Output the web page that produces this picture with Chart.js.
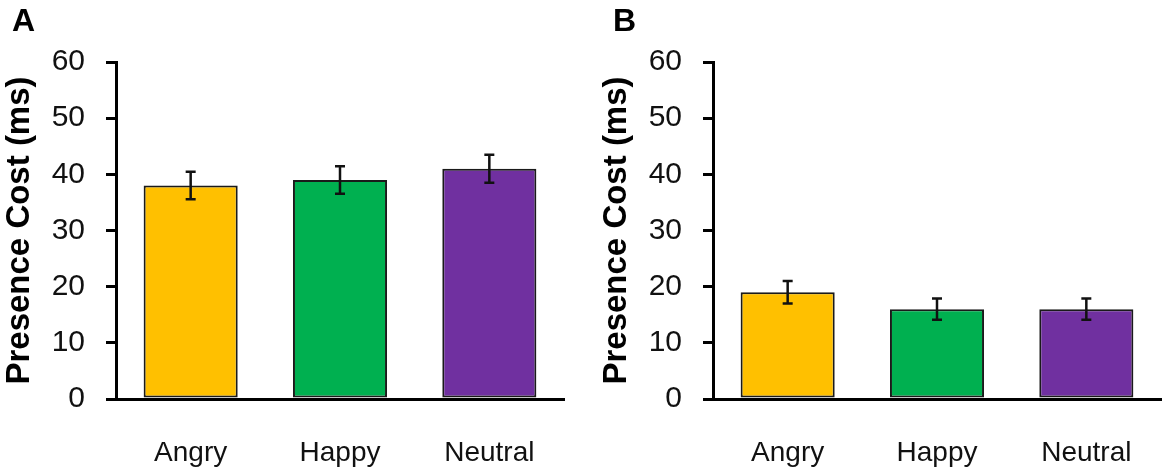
<!DOCTYPE html>
<html>
<head>
<meta charset="utf-8">
<script src="https://cdn.jsdelivr.net/npm/chart.js@4.4.1/dist/chart.umd.min.js"></script>
<style>
  body { margin: 0; background: #fff; }
  .panel { position: absolute; top: 0; height: 469px; }
  #panelA { left: 0; width: 566px; }
  #panelB { left: 597px; width: 566px; }
</style>
</head>
<body>
<div class="panel" id="panelA"><canvas id="chartA"></canvas></div>
<div class="panel" id="panelB"><canvas id="chartB"></canvas></div>
<script>
// values
const categories = ["Angry", "Happy", "Neutral"];
const colours = ["#FFC000", "#00B050", "#7030A0"];
const costA = [38, 39, 41];
const errA = [2.45, 2.45, 2.5];
const costB = [19, 16, 16];
const errB = [2.0, 1.9, 1.9];
const yMax = 60;
const yStep = 10;

const FONT = "'Liberation Sans', Arial, sans-serif";

// error bars + panel letter
const extras = {
  id: "extras",
  afterDatasetsDraw(chart, args, opts) {
    const ctx = chart.ctx;
    const y = chart.scales.y;
    const meta = chart.getDatasetMeta(0);
    ctx.save();
    ctx.strokeStyle = "#111";
    ctx.lineWidth = 2.5;
    meta.data.forEach((bar, i) => {
      const v = chart.data.datasets[0].data[i];
      const e = opts.errors[i];
      const top = y.getPixelForValue(v + e);
      const bot = y.getPixelForValue(v - e);
      ctx.beginPath();
      ctx.moveTo(bar.x, top); ctx.lineTo(bar.x, bot);
      ctx.moveTo(bar.x - 5, top); ctx.lineTo(bar.x + 5, top);
      ctx.moveTo(bar.x - 5, bot); ctx.lineTo(bar.x + 5, bot);
      ctx.stroke();
    });
    ctx.fillStyle = "#000";
    ctx.font = "bold 32px " + FONT;
    ctx.textBaseline = "top";
    ctx.fillText(opts.letter, opts.letterX, 6);
    ctx.restore();
  }
};

function makeChart(id, values, errors, letter, letterX) {
  return new Chart(document.getElementById(id), {
    type: "bar",
    data: {
      labels: categories,
      datasets: [{
        data: values,
        backgroundColor: colours,
        borderColor: "#1a1a1a",
        borderWidth: 2,
        borderSkipped: false,
        categoryPercentage: 1,
        barPercentage: 0.63
      }]
    },
    options: {
      responsive: true,
      maintainAspectRatio: false,
      animation: false,
      layout: { padding: { top: 62, right: 2, left: 0, bottom: 0 } },
      plugins: {
        legend: { display: false },
        tooltip: { enabled: false },
        extras: { errors: errors, letter: letter, letterX: letterX }
      },
      scales: {
        x: {
          grid: { display: false },
          border: { display: true, color: "#000", width: 3 },
          ticks: { color: "#111", font: { family: FONT, size: 28 }, padding: 29 },
          afterFit(s) { s.height = 70; }
        },
        y: {
          min: 0,
          max: yMax,
          ticks: { stepSize: yStep, color: "#111", font: { family: FONT, size: 30 }, padding: 21 },
          grid: { display: true, drawOnChartArea: false, drawTicks: true, tickLength: 10, color: "#000", lineWidth: 3 },
          border: { display: true, color: "#000", width: 3 },
          title: {
            display: true,
            text: "Presence Cost (ms)",
            color: "#000",
            font: { family: FONT, size: 33, weight: "bold" },
            padding: { top: 0, bottom: 0 }
          },
          afterFit(s) { s.width = 116; }
        }
      }
    },
    plugins: [extras]
  });
}

makeChart("chartA", costA, errA, "A", 12);
makeChart("chartB", costB, errB, "B", 16);
</script>
</body>
</html>
